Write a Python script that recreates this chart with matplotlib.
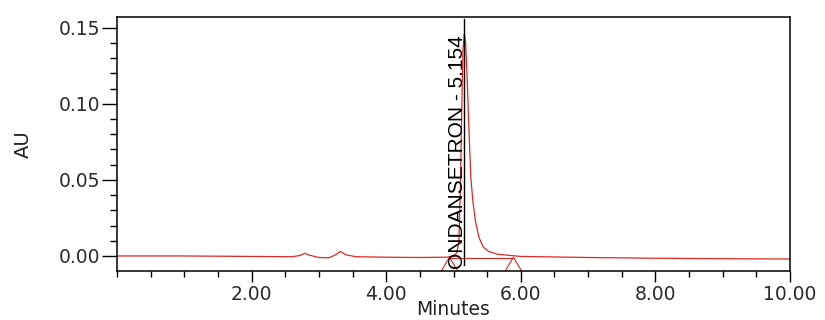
import numpy as np
import matplotlib
matplotlib.use("Agg")
from matplotlib import pyplot as plt
from matplotlib.ticker import MultipleLocator, FormatStrFormatter

plt.rcParams['font.family'] = ['DejaVu Sans']

# chromatogram trace (minutes, AU)
minutes = [0.0, 1.0, 2.0, 2.6, 2.72, 2.79, 2.86, 3.0, 3.15, 3.25, 3.32, 3.40,
           3.55, 4.0, 4.5, 4.9, 5.0, 5.05, 5.08, 5.10, 5.12, 5.14, 5.16, 5.18,
           5.20, 5.22, 5.24, 5.26, 5.29, 5.33, 5.38, 5.44, 5.52, 5.65, 5.8,
           6.0, 7.0, 8.0, 9.0, 10.0]
au = [0.0, 0.0, -0.0003, -0.0005, 0.0003, 0.0018, 0.0005, -0.001, -0.0012,
      0.0008, 0.003, 0.0008, -0.0005, -0.0008, -0.001, -0.0008, 0.0, 0.002,
      0.01, 0.04, 0.09, 0.135, 0.146, 0.14, 0.12, 0.095, 0.07, 0.05, 0.035,
      0.022, 0.012, 0.006, 0.003, 0.0012, 0.0005, -0.0003, -0.001, -0.0015,
      -0.0018, -0.002]

# integration marks (peak start / end) and peak label
marks = [4.94, 5.89]
peak_rt = 5.154
peak_name = "ONDANSETRON - 5.154"

fig = plt.figure(figsize=(8.25, 3.2), dpi=100)
ax = fig.add_axes([0.1418, 0.153, 0.8158, 0.794])

red = "#e02828"
ax.plot(minutes, au, color=red, lw=0.9)
ax.plot([marks[0], marks[1]], [-0.0012, -0.0012], color=red, lw=0.8)
for m in marks:
    ax.plot([m - 0.13, m, m + 0.13], [-0.0105, -0.0008, -0.0105], color=red, lw=0.8)

ax.plot([peak_rt, peak_rt], [-0.006, 0.1555], color="black", lw=1.0)
ax.text(peak_rt + 0.04, -0.0085, peak_name, family="Liberation Sans", rotation=90,
        ha="right", va="bottom", fontsize=15, color="black")

ax.set_xlim(0, 10)
ax.set_ylim(-0.0099, 0.157)
ax.xaxis.set_major_locator(MultipleLocator(2))
ax.xaxis.set_minor_locator(MultipleLocator(0.5))
ax.yaxis.set_major_locator(MultipleLocator(0.05))
ax.yaxis.set_minor_locator(MultipleLocator(0.01))
ax.xaxis.set_major_formatter(FormatStrFormatter("%.2f"))
ax.yaxis.set_major_formatter(FormatStrFormatter("%.2f"))
ax.set_xticks([2, 4, 6, 8, 10])

ax.tick_params(axis="y", which="major", length=11, width=1, pad=1, labelsize=13.5, labelcolor="#2a2a2a")
ax.tick_params(axis="y", which="minor", length=5, width=1)
ax.tick_params(axis="x", which="major", length=8, width=1, pad=2, labelsize=13.5, labelcolor="#2a2a2a")
ax.tick_params(axis="x", which="minor", length=4.5, width=1)
for s in ax.spines.values():
    s.set_linewidth(1.1)

ax.set_xlabel("Minutes", fontsize=13.5, color="#222222", labelpad=-3)
ax.set_ylabel("AU", fontsize=14, color="#222222", labelpad=19)

plt.savefig("out.png", dpi=100)
